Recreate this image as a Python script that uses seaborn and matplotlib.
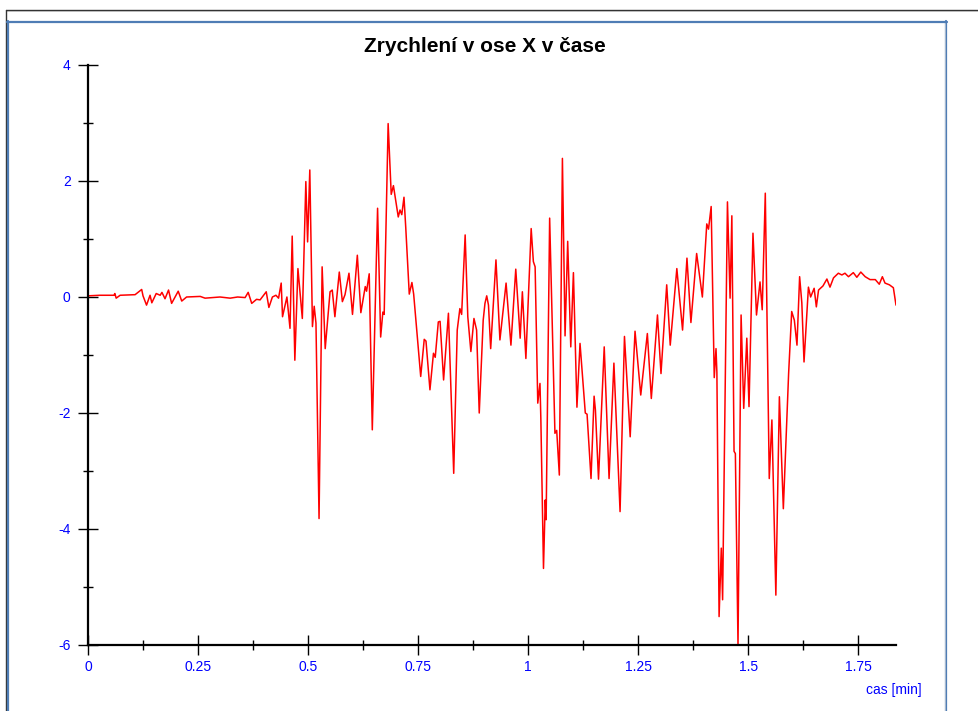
import matplotlib
matplotlib.use("Agg")
import matplotlib.pyplot as plt
from matplotlib.lines import Line2D
from matplotlib.ticker import MultipleLocator, FixedLocator
import seaborn as sns
import numpy as np

# ---- data (time in minutes, acceleration) ----
time_min = [
    0.000, 0.027, 0.059, 0.061, 0.064, 0.073, 0.107, 0.122, 0.125, 0.133,
    0.141, 0.145, 0.155, 0.164, 0.168, 0.175, 0.183, 0.190, 0.198, 0.205,
    0.213, 0.224, 0.255, 0.266, 0.284, 0.300, 0.323, 0.340, 0.357, 0.364,
    0.372, 0.383, 0.391, 0.405, 0.411, 0.419, 0.427, 0.433, 0.439, 0.442,
    0.452, 0.459, 0.464, 0.470, 0.477, 0.487, 0.495, 0.499, 0.504, 0.510,
    0.514, 0.518, 0.525, 0.532, 0.539, 0.550, 0.555, 0.561, 0.571, 0.578,
    0.584, 0.593, 0.601, 0.612, 0.620, 0.630, 0.633, 0.639, 0.646, 0.658,
    0.665, 0.670, 0.673, 0.682, 0.689, 0.694, 0.705, 0.709, 0.713, 0.718,
    0.722, 0.730, 0.736, 0.740, 0.756, 0.764, 0.768, 0.777, 0.785, 0.789,
    0.796, 0.800, 0.808, 0.819, 0.831, 0.839, 0.845, 0.849, 0.857, 0.863,
    0.870, 0.877, 0.883, 0.889, 0.898, 0.902, 0.906, 0.910, 0.915, 0.927,
    0.936, 0.950, 0.961, 0.972, 0.982, 0.987, 0.995, 1.007, 1.012, 1.016,
    1.022, 1.027, 1.029, 1.035, 1.039, 1.041, 1.049, 1.061, 1.065, 1.071,
    1.078, 1.084, 1.090, 1.097, 1.103, 1.111, 1.118, 1.130, 1.134, 1.143,
    1.150, 1.153, 1.160, 1.173, 1.184, 1.195, 1.209, 1.219, 1.232, 1.243,
    1.256, 1.271, 1.280, 1.294, 1.302, 1.315, 1.323, 1.338, 1.351, 1.361,
    1.370, 1.383, 1.396, 1.406, 1.410, 1.416, 1.423, 1.427, 1.429, 1.434,
    1.439, 1.442, 1.453, 1.459, 1.463, 1.468, 1.471, 1.477, 1.484, 1.490,
    1.497, 1.502, 1.511, 1.519, 1.527, 1.532, 1.539, 1.548, 1.554, 1.563,
    1.571, 1.580, 1.592, 1.599, 1.605, 1.611, 1.617, 1.622, 1.627, 1.637,
    1.642, 1.650, 1.655, 1.660, 1.670, 1.679, 1.686, 1.694, 1.705, 1.713,
    1.720, 1.728, 1.739, 1.747, 1.756, 1.766, 1.777, 1.789, 1.798, 1.805,
    1.811, 1.821, 1.830, 1.836,
]
accel_x = [
    0.02, 0.03, 0.03, 0.06, -0.02, 0.03, 0.04, 0.13, 0.02, -0.14,
    0.03, -0.10, 0.06, 0.03, 0.08, -0.03, 0.12, -0.11, 0.00, 0.10,
    -0.07, 0.00, 0.01, -0.02, -0.01, 0.00, -0.02, 0.00, -0.01, 0.08,
    -0.11, -0.04, -0.05, 0.09, -0.18, 0.00, 0.03, -0.02, 0.24, -0.34,
    0.00, -0.54, 1.05, -1.09, 0.49, -0.37, 1.99, 0.95, 2.19, -0.51,
    -0.16, -0.45, -3.82, 0.52, -0.89, 0.09, 0.12, -0.34, 0.43, -0.08,
    0.04, 0.41, -0.30, 0.72, -0.27, 0.18, 0.10, 0.40, -2.29, 1.53,
    -0.69, -0.26, -0.30, 2.99, 1.77, 1.92, 1.38, 1.50, 1.42, 1.72,
    1.20, 0.05, 0.25, 0.05, -1.37, -0.73, -0.76, -1.60, -0.97, -1.04,
    -0.43, -0.42, -1.43, -0.28, -3.04, -0.57, -0.20, -0.30, 1.07, -0.34,
    -0.94, -0.37, -0.57, -2.00, -0.40, -0.11, 0.02, -0.14, -0.89, 0.64,
    -0.74, 0.24, -0.83, 0.48, -0.71, 0.09, -1.06, 1.18, 0.61, 0.52,
    -1.83, -1.49, -2.10, -4.68, -3.50, -3.84, 1.36, -2.35, -2.30, -3.07,
    2.39, -0.67, 0.96, -0.86, 0.42, -1.90, -0.80, -2.00, -2.02, -3.13,
    -1.71, -1.95, -3.14, -0.86, -3.13, -1.14, -3.70, -0.68, -2.41, -0.59,
    -1.69, -0.63, -1.75, -0.31, -1.32, 0.21, -0.83, 0.49, -0.57, 0.67,
    -0.44, 0.75, 0.00, 1.26, 1.17, 1.56, -1.39, -0.89, -1.30, -5.51,
    -4.33, -5.22, 1.64, -0.02, 1.40, -2.66, -2.70, -6.00, -0.31, -1.92,
    -0.71, -1.89, 1.10, -0.31, 0.26, -0.22, 1.79, -3.13, -2.12, -5.14,
    -1.72, -3.65, -1.32, -0.25, -0.40, -0.83, 0.35, -0.10, -1.12, 0.17,
    0.00, 0.15, -0.17, 0.12, 0.19, 0.31, 0.17, 0.33, 0.41, 0.38,
    0.41, 0.35, 0.42, 0.34, 0.43, 0.35, 0.30, 0.30, 0.22, 0.35,
    0.24, 0.21, 0.16, -0.14,
]
x_ticks = [0, 0.25, 0.5, 0.75, 1, 1.25, 1.5, 1.75]
x_tick_labels = ["0", "0.25", "0.5", "0.75", "1", "1.25", "1.5", "1.75"]
y_ticks = [-6, -4, -2, 0, 2, 4]
y_tick_labels = ["-6", "-4", "-2", "0", "2", "4"]
title_text = "Zrychlení v ose X v čase"
x_label_text = "cas [min]"

sns.set_style("white")
plt.rcParams["font.family"] = ["Liberation Sans", "DejaVu Sans"]

W, H = 979, 711
fig = plt.figure(figsize=(W / 100, H / 100), dpi=100)
ax = fig.add_axes([88 / W, 1 - 645 / H, (896 - 88) / W, (645 - 65) / H])

sns.lineplot(x=time_min, y=accel_x, ax=ax, color="#ff0000", linewidth=1.1,
             sort=False, estimator=None)

ax.set_xlim(0, 1.836)
ax.set_ylim(-6, 4)
for s in ["top", "right"]:
    ax.spines[s].set_visible(False)
for s in ["left", "bottom"]:
    ax.spines[s].set_color("black")
    ax.spines[s].set_linewidth(1.6)

ax.xaxis.set_major_locator(FixedLocator(x_ticks))
ax.set_xticklabels(x_tick_labels)
ax.yaxis.set_major_locator(FixedLocator(y_ticks))
ax.set_yticklabels(y_tick_labels)
ax.xaxis.set_minor_locator(MultipleLocator(0.125))
ax.yaxis.set_minor_locator(MultipleLocator(1))
ax.tick_params(which="both", bottom=True, left=True, top=False, right=False)
ax.tick_params(which="major", direction="inout", length=14, width=1.0,
               color="black", labelcolor="#0000ff", labelsize=10)
ax.tick_params(which="minor", direction="inout", length=6.5, width=1.0,
               color="black")
ax.tick_params(axis="x", which="major", pad=4)
ax.tick_params(axis="y", which="major", pad=5.5)
ax.set_xlabel("")
ax.set_ylabel("")

fig.text(485 / W, 1 - 47 / H, title_text, ha="center", va="center",
         fontsize=15, fontweight="bold", color="black")
fig.text(922 / W, 1 - 690 / H, x_label_text, ha="right", va="center",
         fontsize=10, color="#0000ff")

# frame lines
def hline(y, x0, x1, c, lw):
    fig.add_artist(Line2D([x0 / W, x1 / W], [1 - y / H, 1 - y / H],
                          transform=fig.transFigure, color=c, linewidth=lw))

def vline(x, y0, y1, c, lw):
    fig.add_artist(Line2D([x / W, x / W], [1 - y0 / H, 1 - y1 / H],
                          transform=fig.transFigure, color=c, linewidth=lw))

hline(10, 6, W, "#333333", 1.0)
hline(11, 6, W, "#bbbbbb", 0.7)
vline(6, 10, H, "#333333", 1.0)
hline(21.5, 7, 947.5, "#4f7db5", 1.6)
vline(8, 21, H, "#4f7db5", 1.6)
vline(946.5, 21, H, "#4f7db5", 1.6)
vline(944.8, 23, H, "#b8c4d4", 0.6)

fig.savefig("out.png", dpi=100)
